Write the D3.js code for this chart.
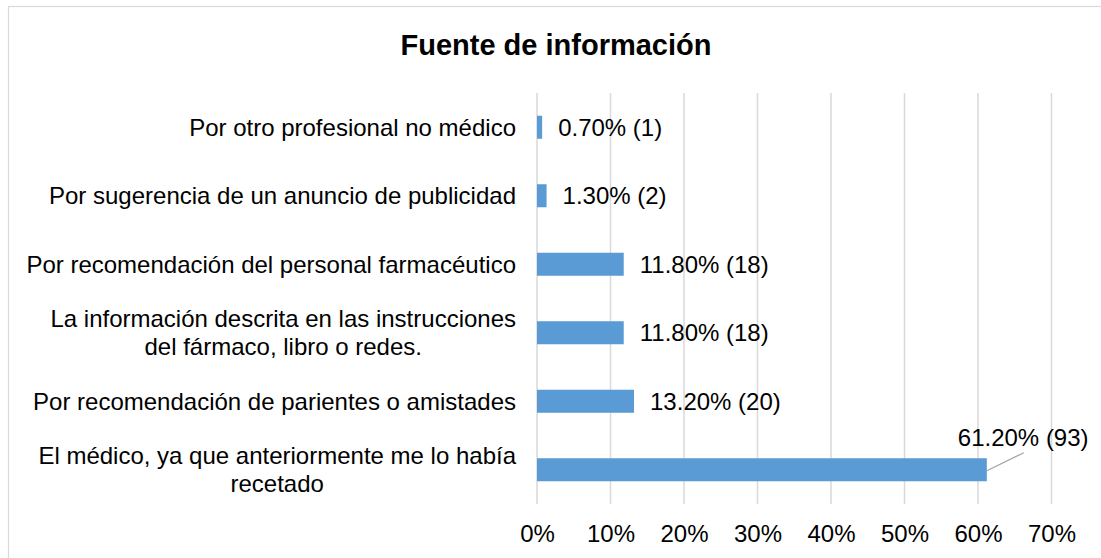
<!DOCTYPE html>
<html><head><meta charset="utf-8">
<script src="https://cdn.jsdelivr.net/npm/d3@7"></script>
<style>
html,body{margin:0;padding:0;background:#fff;}
svg{display:block;}
text{font-family:"Liberation Sans",Arial,sans-serif;fill:#000;}
</style></head>
<body>
<svg id="chart" width="1101" height="558"></svg>
<script>
const title = "Fuente de información";
const categories = [
  ["Por otro profesional no médico"],
  ["Por sugerencia de un anuncio de publicidad"],
  ["Por recomendación del personal farmacéutico"],
  ["La información descrita en las instrucciones", "del fármaco, libro o redes."],
  ["Por recomendación de parientes o amistades"],
  ["El médico, ya que anteriormente me lo había", "recetado"]
];
const values = [0.70, 1.30, 11.80, 11.80, 13.20, 61.20];
const counts = [1, 2, 18, 18, 20, 93];
const ticks = [0, 10, 20, 30, 40, 50, 60, 70];

const svg = d3.select("#chart");
const FS = 24;

svg.append("rect").attr("x", 8.5).attr("y", 6.5).attr("width", 1110).attr("height", 570)
  .attr("fill", "#fff").attr("stroke", "#d9d9d9").attr("stroke-width", 1.2);

svg.append("text").attr("x", 556).attr("y", 55).attr("text-anchor", "middle")
  .attr("font-size", 29).attr("font-weight", "bold").text(title);

const x = d3.scaleLinear().domain([0, 70]).range([537, 1051.5]);
const idx = d3.range(categories.length);
const y = d3.scaleBand().domain(idx).range([93, 504]).paddingInner(0.664).paddingOuter(0.332);

// gridlines
svg.append("g").selectAll("line").data(ticks).join("line")
  .attr("x1", d => x(d)).attr("x2", d => x(d))
  .attr("y1", 93).attr("y2", 504)
  .attr("stroke", "#d9d9d9").attr("stroke-width", 1.5);

// x axis labels
const xAxis = d3.axisBottom(x).tickValues(ticks).tickFormat(d => d + "%").tickSize(0).tickPadding(0);
const gx = svg.append("g").attr("transform", "translate(0,504)").call(xAxis);
gx.select(".domain").remove();
gx.selectAll("text").attr("font-size", FS).attr("dy", null).attr("y", 38)
  .attr("font-family", '"Liberation Sans",Arial,sans-serif').attr("fill", "#000");

// bars
svg.append("g").selectAll("rect").data(idx).join("rect")
  .attr("x", x(0)).attr("y", i => y(i))
  .attr("width", i => x(values[i]) - x(0)).attr("height", y.bandwidth())
  .attr("fill", "#5b9bd5");

// category labels
const labelRight = 516;
const lineH = 28;
idx.forEach(i => {
  const lines = categories[i];
  const cy = y(i) + y.bandwidth() / 2;
  const g = svg.append("g");
  const t = g.append("text").attr("font-size", FS).attr("text-anchor", "middle");
  lines.forEach((ln, k) => {
    t.append("tspan").attr("x", 0)
      .attr("y", cy + (k - (lines.length - 1) / 2) * lineH + FS * 0.35).text(ln);
  });
  let maxW = 0;
  t.selectAll("tspan").each(function () { maxW = Math.max(maxW, this.getComputedTextLength()); });
  t.selectAll("tspan").attr("x", labelRight - maxW / 2);
});

// data labels
idx.forEach(i => {
  const bx = x(values[i]);
  const cy = y(i) + y.bandwidth() / 2;
  const txt = values[i].toFixed(2) + "% (" + counts[i] + ")";
  if (i === idx.length - 1) {
    svg.append("line").attr("x1", bx).attr("y1", cy + 1).attr("x2", bx + 37).attr("y2", cy - 17)
      .attr("stroke", "#a6a6a6").attr("stroke-width", 1.3);
    svg.append("text").attr("x", bx - 29).attr("y", cy - 24).attr("font-size", FS).text(txt);
  } else {
    svg.append("text").attr("x", bx + 16).attr("y", cy + FS * 0.35).attr("font-size", FS).text(txt);
  }
});
</script>
</body></html>
